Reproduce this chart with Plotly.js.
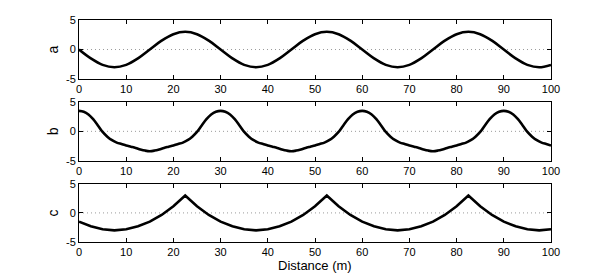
<!DOCTYPE html>
<html>
<head>
<meta charset="utf-8">
<script src="https://cdn.plot.ly/plotly-3.0.1.min.js"></script>
<style>
  html, body { margin: 0; padding: 0; background: #fff; }
  #chart { width: 609px; height: 277px; }
</style>
</head>
<body>
<div id="chart"></div>
<script>
// Panel a: distance (m) and surface elevation
const distA = [0,2.5,5,7.5,10,12.5,15,17.5,20,22.5,25,27.5,30,32.5,35,37.5,40,42.5,45,47.5,50,52.5,55,57.5,60,62.5,65,67.5,70,72.5,75,77.5,80,82.5,85,87.5,90,92.5,95,97.5,100];
const elevA = [0,-1.5,-2.6,-3.0,-2.6,-1.5,0,1.5,2.6,3.0,2.6,1.5,0,-1.5,-2.6,-3.0,-2.6,-1.5,0,1.5,2.6,3.0,2.6,1.5,0,-1.5,-2.6,-3.0,-2.6,-1.5,0,1.5,2.6,3.0,2.6,1.5,0,-1.5,-2.6,-3.0,-2.6];

// Panel b: distance (m) and surface elevation (1 m spacing)
const distB = [0,1,2,3,4,5,6,7,8,9,10,11,12,13,14,15,16,17,18,19,20,21,22,23,24,25,26,27,28,29,
  30,31,32,33,34,35,36,37,38,39,40,41,42,43,44,45,46,47,48,49,50,51,52,53,54,55,56,57,58,59,
  60,61,62,63,64,65,66,67,68,69,70,71,72,73,74,75,76,77,78,79,80,81,82,83,84,85,86,87,88,89,
  90,91,92,93,94,95,96,97,98,99,100];
const elevB = [3.45,3.3,2.85,2.05,1.0,-0.1,-0.9,-1.5,-1.9,-2.15,-2.4,-2.6,-2.8,-3.05,-3.25,-3.35,-3.25,-3.05,-2.8,-2.6,-2.4,-2.15,-1.9,-1.5,-0.9,-0.1,1.0,2.05,2.85,3.3,
  3.45,3.3,2.85,2.05,1.0,-0.1,-0.9,-1.5,-1.9,-2.15,-2.4,-2.6,-2.8,-3.05,-3.25,-3.35,-3.25,-3.05,-2.8,-2.6,-2.4,-2.15,-1.9,-1.5,-0.9,-0.1,1.0,2.05,2.85,3.3,
  3.45,3.3,2.85,2.05,1.0,-0.1,-0.9,-1.5,-1.9,-2.15,-2.4,-2.6,-2.8,-3.05,-3.25,-3.35,-3.25,-3.05,-2.8,-2.6,-2.4,-2.15,-1.9,-1.5,-0.9,-0.1,1.0,2.05,2.85,3.3,
  3.45,3.3,2.85,2.05,1.0,-0.1,-0.9,-1.5,-1.9,-2.15,-2.4];

// Panel c: distance (m) and surface elevation (cusped crests)
const distC = distA;
const elevC = [-1.5,-2.3,-2.8,-3.0,-2.8,-2.3,-1.5,-0.35,1.15,3.0,1.15,-0.35,
  -1.5,-2.3,-2.8,-3.0,-2.8,-2.3,-1.5,-0.35,1.15,3.0,1.15,-0.35,
  -1.5,-2.3,-2.8,-3.0,-2.8,-2.3,-1.5,-0.35,1.15,3.0,1.15,-0.35,
  -1.5,-2.3,-2.8,-3.0,-2.8];

const panelLabels = ['a', 'b', 'c'];
const xTickVals = [0,10,20,30,40,50,60,70,80,90,100];
const yTickVals = [-5, 0, 5];
const yTickText = ['-5', '0', '5'];
const xRange = [0, 100];
const yRange = [-5, 5];
const xTitle = 'Distance (m)';

const lineStyle = {color: '#000', width: 2.6};
const traces = [
  {x: distA, y: elevA, xaxis: 'x',  yaxis: 'y',  mode: 'lines', line: Object.assign({shape: 'spline', smoothing: 1}, lineStyle), hoverinfo: 'skip'},
  {x: distB, y: elevB, xaxis: 'x2', yaxis: 'y2', mode: 'lines', line: Object.assign({shape: 'spline', smoothing: 1}, lineStyle), hoverinfo: 'skip'},
  {x: distC, y: elevC, xaxis: 'x3', yaxis: 'y3', mode: 'lines', line: Object.assign({shape: 'linear'}, lineStyle), hoverinfo: 'skip'}
];

const fontFam = '"Liberation Sans", Arial, Helvetica, sans-serif';
function xAxis(anchor) {
  return {
    anchor: anchor, range: xRange, tickmode: 'array', tickvals: xTickVals,
    ticks: 'inside', ticklen: 4, tickwidth: 1, tickcolor: '#000',
    showline: true, linecolor: '#000', linewidth: 1, mirror: 'ticks',
    showgrid: false, zeroline: false, fixedrange: true,
    tickfont: {family: fontFam, size: 11, color: '#000'}
  };
}
function yAxis(anchor, domain, title) {
  return {
    anchor: anchor, domain: domain, range: yRange, tickmode: 'array',
    tickvals: yTickVals, ticktext: yTickText,
    ticks: 'inside', ticklen: 4, tickwidth: 1, tickcolor: '#000',
    showline: true, linecolor: '#000', linewidth: 1, mirror: 'ticks',
    showgrid: false, zeroline: false, fixedrange: true,
    tickfont: {family: fontFam, size: 11, color: '#000'},
    title: {text: title, font: {family: fontFam, size: 14, color: '#000'}, standoff: 4}
  };
}

const zeroLine = (yref) => ({
  type: 'line', xref: yref === 'y' ? 'x domain' : yref.replace('y', 'x') + ' domain',
  x0: 0, x1: 1, yref: yref, y0: 0, y1: 0, layer: 'below',
  line: {color: '#9a9a9a', width: 1, dash: '1px,3px'}
});

const layout = {
  width: 609, height: 277,
  margin: {l: 79, r: 58, t: 20, b: 35},
  paper_bgcolor: '#fff', plot_bgcolor: '#fff',
  showlegend: false,
  font: {family: fontFam, size: 11, color: '#000'},
  xaxis: xAxis('y'),
  yaxis: yAxis('x', [0.734, 1], panelLabels[0]),
  xaxis2: xAxis('y2'),
  yaxis2: yAxis('x2', [0.365, 0.632], panelLabels[1]),
  xaxis3: xAxis('y3'),
  yaxis3: yAxis('x3', [0, 0.262], panelLabels[2]),
  shapes: [zeroLine('y'), zeroLine('y2'), zeroLine('y3')],
  annotations: [{
    text: xTitle, xref: 'x3 domain', x: 0.5, yref: 'paper', y: -0.108,
    xanchor: 'center', yanchor: 'middle', showarrow: false,
    font: {family: fontFam, size: 13, color: '#000'}
  }]
};

Plotly.newPlot('chart', traces, layout, {displayModeBar: false, staticPlot: true});
</script>
</body>
</html>
